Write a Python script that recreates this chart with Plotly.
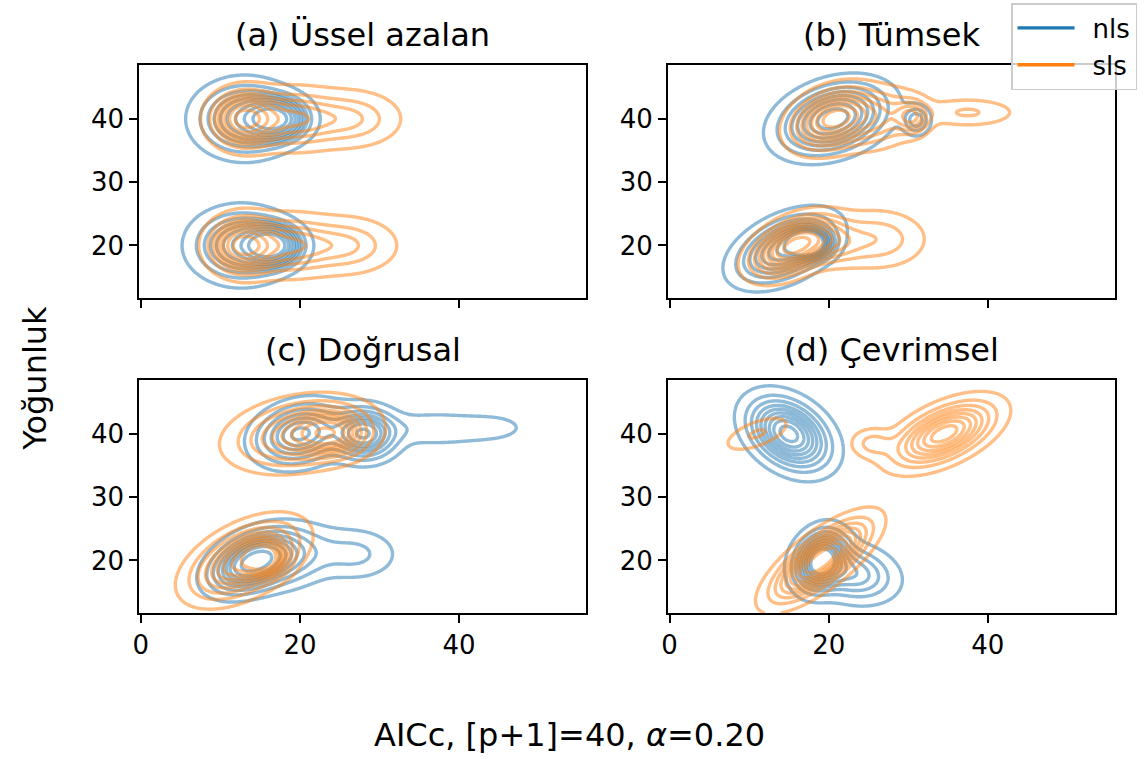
import numpy as np
import plotly.graph_objects as go

# ---------------- data ----------------
TITLES = ["(a) Üssel azalan", "(b) Tümsek", "(c) Doğrusal", "(d) Çevrimsel"]
SERIES = ["nls", "sls"]
X_TICKS = [0, 20, 40]
Y_TICKS = [20, 30, 40]
X_LABEL = "AICc, [p+1]=40, <i>α</i>=0.20"
Y_LABEL = "Yoğunluk"

# density components: (centre x, centre y, sd x, sd y, correlation, weight)
a_nls = [(13.0, 40, 3.3, 3.1, 0.0, 0.6), (17.0, 40, 2.2, 1.9, 0.0, 0.4),
         (12.6, 20, 3.3, 3.0, 0.0, 0.6), (16.5, 20, 2.0, 1.8, 0.0, 0.4)]
a_sls = [(13.0, 40, 2.3, 2.4, 0.0, 0.45), (19.0, 40, 3.5, 2.6, 0.0, 0.35), (26.5, 40, 3.5, 2.5, 0.0, 0.2),
         (12.8, 20, 2.3, 2.4, 0.0, 0.45), (18.5, 20, 3.5, 2.6, 0.0, 0.35), (26.0, 20, 3.5, 2.5, 0.0, 0.2)]
b_nls = [(20.5, 40, 3.6, 3.0, 0.3, 0.96), (31.0, 39.8, 1.0, 1.3, 0.0, 0.04),
         (14.5, 19.5, 3.3, 2.9, 0.45, 0.7), (17.5, 20.3, 1.5, 1.3, 0.0, 0.3)]
b_sls = [(20.5, 40, 2.8, 2.6, 0.3, 0.6), (26.0, 40, 3.0, 2.6, 0.2, 0.25), (30.5, 40.3, 1.3, 1.6, 0.0, 0.08),
         (37.5, 41, 3.5, 1.3, 0.0, 0.07),
         (15.5, 19.8, 2.8, 2.5, 0.45, 0.65), (20.0, 20.5, 2.5, 2.0, 0.0, 0.15), (26.0, 21.0, 3.5, 2.6, 0.0, 0.2)]
c_nls = [(20.0, 40, 3.0, 2.6, 0.2, 0.5), (28.0, 40, 2.3, 2.2, 0.0, 0.38), (37.0, 40.8, 4.5, 1.6, 0.0, 0.08),
         (44.5, 41, 2.8, 1.4, 0.0, 0.022),
         (14.0, 19.7, 2.8, 2.5, 0.4, 0.6), (18.0, 20.5, 3.5, 2.7, 0.2, 0.3), (27.0, 21, 3.0, 2.3, 0.0, 0.1)]
c_sls = [(20.0, 40, 4.5, 2.9, 0.25, 0.7), (24.0, 40, 2.5, 2.0, 0.0, 0.3),
         (13.0, 20, 3.6, 3.2, 0.5, 0.8), (15.5, 20.3, 1.5, 1.5, 0.0, 0.2)]
d_nls = [(15.0, 40, 2.8, 3.1, -0.35, 1.0),
         (19.0, 20, 1.8, 2.6, 0.2, 0.6), (23.0, 18, 3.0, 2.5, -0.2, 0.4)]
d_sls = [(11.0, 40, 2.4, 1.6, 0.6, 0.06), (25.5, 38.5, 1.6, 1.4, 0.0, 0.05), (34.5, 40, 3.5, 2.8, 0.55, 0.89),
         (19.0, 20, 3.3, 3.4, 0.75, 1.0)]

PANEL_DATA = [(a_nls, a_sls), (b_nls, b_sls), (c_nls, c_sls), (d_nls, d_sls)]

# ---------------- style ----------------
COLORS = {"nls": "#1f77b4", "sls": "#ff7f0e"}
LINE_RGBA = {"nls": "rgba(31,119,180,0.5)", "sls": "rgba(255,127,14,0.5)"}
W, H = 1144, 759
FONT = "DejaVu Sans"
X_RANGE = [-0.2, 56.0]
Y_RANGE = [11.7, 48.5]
# panel pixel boxes (left, right, top, bottom)
BOXES = [(133, 583, 65, 298), (665, 1115, 65, 298), (133, 583, 380, 613), (665, 1115, 380, 613)]

xs = np.linspace(X_RANGE[0], X_RANGE[1], 320)
ys = np.linspace(Y_RANGE[0], Y_RANGE[1], 220)
XX, YY = np.meshgrid(xs, ys)


def density(comps):
    z = np.zeros_like(XX)
    tot = sum(c[5] for c in comps)
    for cx, cy, sx, sy, r, w in comps:
        dx = (XX - cx) / sx
        dy = (YY - cy) / sy
        q = (dx ** 2 - 2 * r * dx * dy + dy ** 2) / (1 - r ** 2)
        z += (w / tot) * np.exp(-q / 2) / (2 * np.pi * sx * sy * np.sqrt(1 - r ** 2))
    return z


N_LEVELS = 10
THRESH = 0.05
step = (1 - THRESH) / (N_LEVELS - 1)

fig = go.Figure()
for i, (nls_c, sls_c) in enumerate(PANEL_DATA):
    dens = [0.5 * density(nls_c), 0.5 * density(sls_c)]
    allv = np.concatenate([d.ravel() for d in dens])
    asc = np.sort(allv)
    tail = np.cumsum(asc[::-1])[::-1] / allv.sum()
    tail = np.append(tail, 0.0)
    ax = "" if i == 0 else str(i + 1)
    for name, d in zip(SERIES, dens):
        zp = tail[np.searchsorted(asc, d, side="left")]
        fig.add_trace(go.Contour(
            x=xs, y=ys, z=zp, xaxis="x" + ax, yaxis="y" + ax,
            autocontour=False,
            contours=dict(coloring="none", start=(1 - THRESH) - (N_LEVELS - 2) * step,
                          end=1 - THRESH, size=step),
            line=dict(color=LINE_RGBA[name], width=3.4, smoothing=1.0),
            showscale=False, showlegend=False, hoverinfo="skip", name=name))

for name in SERIES:
    fig.add_trace(go.Scatter(x=[None], y=[None], mode="lines", name="\u2002" + name,
                             line=dict(color=COLORS[name], width=3.4)))

layout = dict(width=W, height=H, margin=dict(l=0, r=0, t=0, b=0),
              plot_bgcolor="white", paper_bgcolor="white",
              font=dict(family=FONT, color="black"))
annotations = []
for i, (l, r, t, b) in enumerate(BOXES):
    ax = "" if i == 0 else str(i + 1)
    common = dict(showline=True, linecolor="black", linewidth=1.8, mirror=True,
                  ticks="outside", ticklen=8, tickwidth=1.8, tickcolor="black",
                  showgrid=False, zeroline=False, tickfont=dict(size=26, family=FONT))
    layout["xaxis" + ax] = dict(common, domain=[l / W, r / W], range=X_RANGE,
                                tickvals=X_TICKS, anchor="y" + ax,
                                showticklabels=(i >= 2))
    layout["yaxis" + ax] = dict(common, domain=[1 - b / H, 1 - t / H], range=Y_RANGE,
                                tickvals=Y_TICKS, anchor="x" + ax)
    annotations.append(dict(text=TITLES[i], x=(l + r) / 2 / W, y=1 - (t - 9) / H,
                            xref="paper", yref="paper", xanchor="center", yanchor="bottom",
                            showarrow=False, font=dict(size=32, family=FONT)))

annotations.append(dict(text=X_LABEL, x=566 / W, y=1 - 735 / H, xref="paper", yref="paper",
                        xanchor="center", yanchor="middle", showarrow=False,
                        font=dict(size=32, family=FONT)))
annotations.append(dict(text=Y_LABEL, x=28 / W, y=1 - 378 / H, xref="paper", yref="paper",
                        xanchor="center", yanchor="middle", showarrow=False, textangle=-90,
                        font=dict(size=32, family=FONT)))
layout["annotations"] = annotations
layout["legend"] = dict(x=1137 / W, y=1 - 3 / H, xanchor="right", yanchor="top",
                        bgcolor="rgba(255,255,255,0.8)", bordercolor="#cccccc", borderwidth=1.5,
                        font=dict(size=26, family=FONT), itemwidth=57, tracegroupgap=0)
fig.update_layout(**layout)
fig.write_html("out.html")
